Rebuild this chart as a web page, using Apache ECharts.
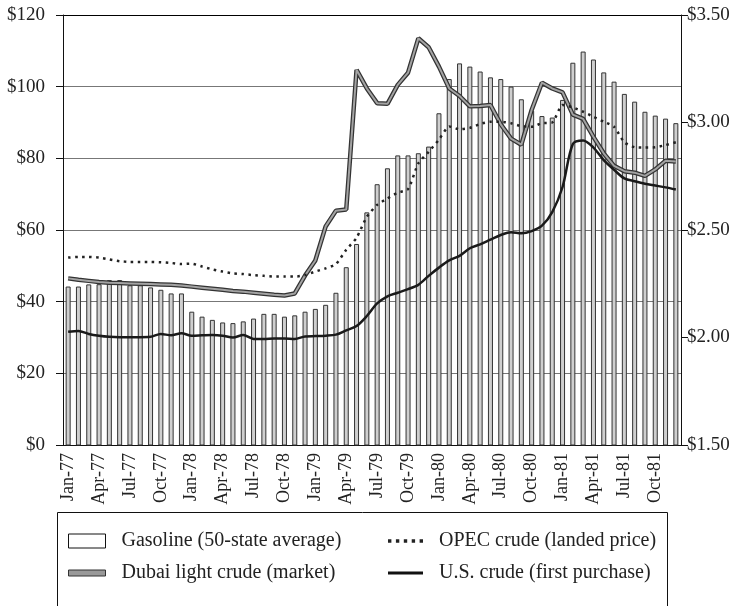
<!DOCTYPE html>
<html>
<head>
<meta charset="utf-8">
<script src="https://cdn.jsdelivr.net/npm/echarts@6/dist/echarts.min.js"></script>
<style>
  html, body { margin: 0; padding: 0; background: #fff; }
  #chart { width: 742px; height: 606px; }
</style>
</head>
<body>
<div id="chart"></div>
<script>
// months Jan-77 .. Dec-81
const monthNames = ["Jan", "Feb", "Mar", "Apr", "May", "Jun", "Jul", "Aug", "Sep", "Oct", "Nov", "Dec"];
const years = ["77", "78", "79", "80", "81"];
const months = [];
years.forEach((y) => monthNames.forEach((m) => months.push(m + "-" + y)));

// gasoline, $ per gallon (right axis)
const gasoline = [
  2.237, 2.237, 2.247, 2.248, 2.267, 2.267, 2.243, 2.243, 2.233, 2.222, 2.205, 2.205,
  2.120, 2.097, 2.082, 2.070, 2.067, 2.075, 2.088, 2.110, 2.110, 2.097, 2.103, 2.120,
  2.133, 2.152, 2.208, 2.327, 2.435, 2.582, 2.713, 2.787, 2.847, 2.847, 2.857, 2.888,
  3.043, 3.202, 3.275, 3.260, 3.237, 3.210, 3.202, 3.167, 3.108, 3.055, 3.030, 3.023,
  3.105, 3.278, 3.330, 3.293, 3.233, 3.190, 3.133, 3.097, 3.050, 3.032, 3.018, 2.997,
];
// crude prices, $ per barrel (left axis)
const dubai = [
  46.5, 46.1, 45.8, 45.5, 45.3, 45.2, 45.1, 45.0, 44.9, 44.8, 44.7, 44.5,
  44.2, 43.9, 43.6, 43.3, 43.0, 42.8, 42.5, 42.2, 41.9, 41.7, 42.3, 47.3,
  51.5, 61.0, 65.4, 65.7, 104.7, 99.5, 95.4, 95.2, 100.5, 103.9, 113.5, 111.0,
  105.6, 99.5, 97.4, 94.5, 94.6, 94.9, 89.5, 85.5, 83.8, 93.5, 101.1, 99.5,
  98.4, 92.2, 91.0, 86.0, 81.4, 77.9, 76.4, 76.0, 75.1, 76.9, 79.3, 79.1,
];
const opec = [
  52.3, 52.5, 52.5, 52.3, 51.8, 51.3, 51.1, 51.1, 51.1, 51.0, 50.8, 50.5,
  50.6, 49.8, 49.0, 48.4, 47.9, 47.7, 47.4, 47.2, 47.0, 47.0, 47.0, 47.4,
  48.4, 49.3, 50.5, 54.5, 57.8, 63.7, 67.0, 68.8, 70.4, 71.4, 78.6, 81.8,
  85.2, 88.9, 88.1, 88.5, 89.6, 90.2, 90.2, 89.8, 89.0, 88.8, 89.8, 90.0,
  94.9, 94.2, 93.0, 91.6, 90.2, 88.8, 84.5, 83.1, 83.0, 83.1, 83.7, 84.5,
];
const usCrude = [
  31.6, 31.8, 31.0, 30.5, 30.2, 30.1, 30.1, 30.1, 30.2, 31.0, 30.6, 31.2,
  30.5, 30.6, 30.7, 30.5, 30.0, 30.7, 29.6, 29.6, 29.7, 29.7, 29.6, 30.3,
  30.4, 30.5, 30.8, 32.0, 33.2, 36.0, 39.5, 41.5, 42.5, 43.5, 44.7, 47.2,
  49.5, 51.5, 52.8, 54.9, 56.0, 57.3, 58.6, 59.4, 59.1, 59.7, 61.2, 65.0,
  72.0, 84.0, 85.0, 83.0, 79.5, 76.8, 74.4, 73.6, 72.9, 72.4, 71.9, 71.3,
];

const names = {
  gas: "Gasoline (50-state average)",
  dubai: "Dubai light crude (market)",
  opec: "OPEC crude (landed price)",
  us: "U.S. crude (first purchase)",
};

const font = "Liberation Serif";
const ink = "#222";

const chart = echarts.init(document.getElementById("chart"));
chart.setOption({
  animation: false,
  textStyle: { fontFamily: font, color: ink },
  grid: { left: 63, right: 61, top: 15, bottom: 161 },
  xAxis: {
    type: "category",
    data: months,
    boundaryGap: true,
    axisLine: { lineStyle: { color: "#111", width: 1 } },
    axisTick: { interval: 2, length: 6, lineStyle: { color: "#111" } },
    axisLabel: {
      interval: 2,
      rotate: 90,
      margin: 8,
      fontSize: 18,
      fontFamily: font,
      color: ink,
    },
  },
  yAxis: [
    {
      type: "value",
      min: 0,
      max: 120,
      interval: 20,
      axisLine: { show: true, lineStyle: { color: "#111" } },
      axisTick: { show: true, length: 7, lineStyle: { color: "#111" } },
      axisLabel: {
        formatter: (v) => "$" + v,
        fontSize: 19,
        fontFamily: font,
        color: ink,
        margin: 18,
      },
      splitLine: {
        show: true,
        lineStyle: { color: ["#000", "#777", "#777", "#777", "#777", "#777", "#000"], width: 1 },
      },
    },
    {
      type: "value",
      min: 1.5,
      max: 3.5,
      interval: 0.5,
      axisLine: { show: true, lineStyle: { color: "#111" } },
      axisTick: { show: true, length: 7, lineStyle: { color: "#111" } },
      axisLabel: {
        formatter: (v) => "$" + v.toFixed(2),
        fontSize: 19,
        fontFamily: font,
        color: ink,
        margin: 6,
      },
      splitLine: { show: false },
    },
  ],
  legend: [
    {
      orient: "vertical",
      left: 63,
      top: 526,
      itemWidth: 37,
      itemHeight: 14,
      itemGap: 12,
      textStyle: { fontSize: 20, fontFamily: font, color: ink, padding: [0, 0, 0, 11] },
      data: [
        { name: names.gas, icon: "rect", itemStyle: { color: "#fff", borderColor: "#111", borderWidth: 1 } },
        { name: names.dubai, icon: "path://M0,0H37V6H0Z", itemStyle: { color: "#999", borderColor: "#333", borderWidth: 1 } },
      ],
    },
    {
      orient: "vertical",
      left: 383,
      top: 526,
      itemWidth: 35,
      itemHeight: 14,
      itemGap: 12,
      textStyle: { fontSize: 20, fontFamily: font, color: ink, padding: [0, 0, 0, 11] },
      data: [
        {
          name: names.opec,
          icon: "path://M0,0h3v3h-3zM7,0h3v3h-3zM14,0h3v3h-3zM21,0h3v3h-3zM28,0h3v3h-3z",
          itemStyle: { color: "#222", borderWidth: 0 },
        },
        { name: names.us, icon: "path://M0,0H35V3H0Z", itemStyle: { color: "#111", borderWidth: 0 } },
      ],
    },
  ],
  graphic: [
    {
      type: "rect",
      left: 55,
      top: 510,
      shape: { width: 610, height: 100 },
      style: { fill: "none", stroke: "#111", lineWidth: 1 },
      silent: true,
    },
  ],
  series: [
    {
      name: names.gas,
      type: "bar",
      yAxisIndex: 1,
      barWidth: 5,
      itemStyle: { color: "#cfcfcf", borderColor: "#333", borderWidth: 1 },
      data: gasoline,
      z: 1,
    },
    {
      name: names.dubai,
      type: "line",
      yAxisIndex: 0,
      symbol: "none",
      lineStyle: { color: "#333", width: 4.5 },
      data: dubai,
      z: 3,
    },
    {
      name: names.dubai,
      type: "line",
      yAxisIndex: 0,
      symbol: "none",
      lineStyle: { color: "#a3a3a3", width: 2 },
      data: dubai,
      z: 4,
    },
    {
      name: names.opec,
      type: "line",
      yAxisIndex: 0,
      symbol: "none",
      smooth: 0.2,
      lineStyle: { color: "#222", width: 2.5, type: [2.5, 4.5] },
      data: opec,
      z: 5,
    },
    {
      name: names.us,
      type: "line",
      yAxisIndex: 0,
      symbol: "none",
      smooth: 0.3,
      lineStyle: { color: "#1a1a1a", width: 2.5 },
      data: usCrude,
      z: 6,
    },
  ],
});
</script>
</body>
</html>
